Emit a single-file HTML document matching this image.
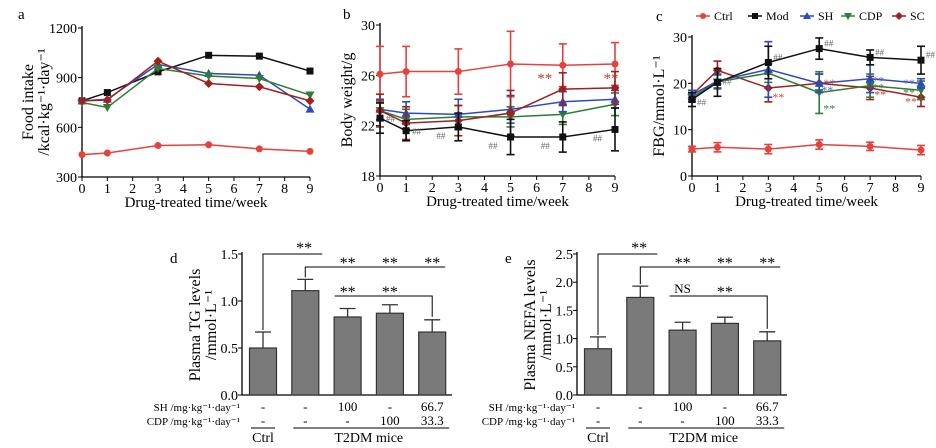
<!DOCTYPE html>
<html><head><meta charset="utf-8">
<style>
html,body{margin:0;padding:0;background:#fff;}
svg{display:block;font-family:"Liberation Serif",serif;}
</style></head>
<body>
<svg id="fig" width="936" height="448" viewBox="0 0 936 448" xmlns="http://www.w3.org/2000/svg"></svg>
<script>
// ---- data ----
const weeks = [0,1,3,5,7,9];
const seriesNames = ["Ctrl","Mod","SH","CDP","SC"];
const seriesColors = ["#e8413c","#111111","#2b4bbd","#2e7d32","#a02020"];
const markerShapes = ["circle","square","triUp","triDown","diamond"];
// Panel a: food intake
const foodCtrl = [435,445,490,495,470,455];
const foodMod  = [760,810,935,1035,1030,940];
const foodSH   = [760,770,980,925,915,710];
const foodCDP  = [750,720,955,910,895,795];
const foodSC   = [760,765,1000,865,845,760];
// Panel b: body weight
const bwCtrl = [26.1,26.3,26.3,26.9,26.8,26.9];
const bwCtrlErr = [2.2,2.0,1.8,2.6,1.7,1.7];
const bwMod = [22.6,21.6,21.9,21.1,21.1,21.7];
const bwModErr = [1.2,0.8,1.1,1.4,1.2,1.7];
const bwSH = [23.3,23.0,22.9,23.3,23.9,24.1];
const bwSHErr = [0.8,0.9,1.2,1.1,0.8,0.7];
const bwCDP = [23.2,22.5,22.7,22.7,22.9,23.7];
const bwCDPErr = [0.8,0.8,0.9,0.8,0.8,0.9];
const bwSC = [23.2,22.2,22.4,23.0,24.9,25.0];
const bwSCErr = [1.3,1.3,1.2,1.8,1.3,1.3];
// Panel c: FBG
const fbgCtrl = [5.8,6.2,5.8,6.8,6.4,5.6];
const fbgCtrlErr = [0.6,1.0,1.0,1.0,0.9,1.0];
const fbgMod = [16.5,20.2,24.5,27.5,25.6,25.0];
const fbgModErr = [1.5,3.0,3.5,2.3,1.6,3.0];
const fbgSH = [17.5,20.5,23.0,20.0,21.0,20.0];
const fbgSHErr = [1.0,1.5,6.0,2.0,3.0,1.0];
const fbgCDP = [17.0,20.3,22.2,18.0,19.5,18.5];
const fbgCDPErr = [1.0,1.5,2.0,4.5,2.5,2.0];
const fbgSC = [17.5,22.8,19.0,20.0,19.0,17.0];
const fbgSCErr = [1.0,2.0,3.0,2.0,2.5,2.0];
// Panel d / e
const barGroups = ["Ctrl","Mod","SH","CDP","SC"];
const tgValues = [0.50,1.11,0.83,0.87,0.67];
const tgErr = [0.17,0.12,0.09,0.09,0.13];
const nefaValues = [0.82,1.73,1.15,1.27,0.96];
const nefaErr = [0.21,0.20,0.14,0.11,0.16];
const shDose = ["-","-","100","-","66.7"];
const cdpDose = ["-","-","-","100","33.3"];
const lineTicksX = [0,1,2,3,4,5,6,7,8,9];
const foodTicks = [300,600,900,1200];
const bwTicks = [18,22,26,30];
const fbgTicks = [0,10,20,30];
const tgTicks = [0,0.5,1.0,1.5];
const nefaTicks = [0,0.5,1.0,1.5,2.0,2.5];

const svg = document.getElementById('fig');
const NS = 'http://www.w3.org/2000/svg';
function mk(tag, attrs, parent, text){
  const e = document.createElementNS(NS, tag);
  for (const k in attrs) e.setAttribute(k, attrs[k]);
  if (text !== undefined) e.textContent = text;
  (parent || svg).appendChild(e);
  return e;
}
function lin(d0,d1,r0,r1){ return v => r0 + (v-d0)/(d1-d0)*(r1-r0); }

function marker(g, shape, x, y, color, s){
  let e;
  if (shape==='circle') e = mk('circle',{cx:x,cy:y,r:s},g);
  else if (shape==='square') e = mk('rect',{x:x-s,y:y-s,width:2*s,height:2*s},g);
  else if (shape==='triUp') e = mk('polygon',{points:`${x},${y-s-1} ${x-s-1},${y+s} ${x+s+1},${y+s}`},g);
  else if (shape==='triDown') e = mk('polygon',{points:`${x},${y+s+1} ${x-s-1},${y-s} ${x+s+1},${y-s}`},g);
  else e = mk('polygon',{points:`${x},${y-s-1} ${x+s+1},${y} ${x},${y+s+1} ${x-s-1},${y}`},g);
  e.setAttribute('fill', color);
  
  
  return e;
}

function lineAxes(g, x0, x1, yTop, yBot, yTicks, sx, sy, fmt){
  const ax = mk('g',{},g);
  
  
  mk('line',{x1:x0,y1:yTop-2,x2:x0,y2:yBot,stroke:'#000','stroke-width':1.3},ax);
  mk('line',{x1:x0,y1:yBot,x2:x1,y2:yBot,stroke:'#000','stroke-width':1.3},ax);
  lineTicksX.forEach(t=>{
    const x = sx(t);
    mk('line',{x1:x,y1:yBot,x2:x,y2:yBot+4,stroke:'#000','stroke-width':1},ax);
    const lb = mk('text',{x:x,y:yBot+16,'font-size':14,'text-anchor':'middle'},ax,String(t));
    
    
  });
  yTicks.forEach(t=>{
    const y = sy(t);
    mk('line',{x1:x0-4,y1:y,x2:x0,y2:y,stroke:'#000','stroke-width':1},ax);
    const lb = mk('text',{x:x0-5,y:y+5,'font-size':14,'text-anchor':'end'},ax,fmt?fmt(t):String(t));
    
    
  });
  const xt = mk('text',{x:(x0+x1)/2,y:yBot+30,'font-size':15,'text-anchor':'middle'},ax,'Drug-treated time/week');
  
  
}

function drawSeries(g, xs, ys, errs, sx, sy, color, shape, name){
  const sg = mk('g',{},g);
  
  
  if (errs){
    xs.forEach((x,i)=>{
      const X = sx(x), y1 = sy(ys[i]-errs[i]), y2 = sy(ys[i]+errs[i]);
      mk('line',{x1:X,y1:y1,x2:X,y2:y2,stroke:color,'stroke-width':1.6},sg);
      mk('line',{x1:X-4,y1:y1,x2:X+4,y2:y1,stroke:color,'stroke-width':1.6},sg);
      mk('line',{x1:X-4,y1:y2,x2:X+4,y2:y2,stroke:color,'stroke-width':1.6},sg);
    });
  }
  const pts = xs.map((x,i)=>sx(x)+','+sy(ys[i])).join(' ');
  mk('polyline',{points:pts,fill:'none',stroke:color,'stroke-width':1.5},sg);
  xs.forEach((x,i)=>marker(sg, shape, sx(x), sy(ys[i]), color, 3.5));
}

function rotTitle(g, x, y, lines){
  const t = mk('text',{transform:`translate(${x},${y}) rotate(-90)`,'font-size':16,'text-anchor':'middle'},g);
  
  
  lines.forEach((l,i)=>{
    mk('tspan',{x:0,dy:i===0?0:16},t,l);
  });
}

// ---- Panel a ----
(function(){
  const g = mk('g',{});  
  const sx = lin(0,9,82,310), sy = lin(300,1200,177,28);
  mk('text',{x:18,y:19,'font-size':15},g,'a');
  lineAxes(g,82,310,28,177,foodTicks,sx,sy);
  rotTitle(g,33,102,['Food intake','/kcal·kg⁻¹·day⁻¹']);
  const data=[foodCtrl,foodMod,foodSH,foodCDP,foodSC];
  data.forEach((d,i)=>drawSeries(g,weeks,d,null,sx,sy,seriesColors[i],markerShapes[i],seriesNames[i]));
})();

// ---- Panel b ----
(function(){
  const g = mk('g',{});  
  const sx = lin(0,9,380,615), sy = lin(18,30,176,25);
  mk('text',{x:343,y:19,'font-size':15},g,'b');
  lineAxes(g,380,615,25,176,bwTicks,sx,sy);
  rotTitle(g,352,100,['Body weight/g']);
  const data=[[bwCtrl,bwCtrlErr],[bwMod,bwModErr],[bwSH,bwSHErr],[bwCDP,bwCDPErr],[bwSC,bwSCErr]];
  [0,3,2,4,1].forEach(i=>drawSeries(g,weeks,data[i][0],data[i][1],sx,sy,seriesColors[i],markerShapes[i],seriesNames[i]));
  weeks.forEach((w,i)=>{
    const t = mk('text',{x:sx(w)+(i<2?6:-22),y:sy(bwMod[i])+(i<2?4:12),'font-size':9,fill:'#666'},g,'##');
  });
  mk('text',{x:sx(7)-18,y:sy(25.4),'font-size':15,fill:'#b0402a','text-anchor':'middle'},g,'**');
  mk('text',{x:sx(9)-4,y:sy(25.4),'font-size':15,fill:'#b0402a','text-anchor':'middle'},g,'**');
})();

// ---- Panel c ----
(function(){
  const g = mk('g',{});  
  const sx = lin(0,9,692,921), sy = lin(0,30,176,37);
  mk('text',{x:656,y:21,'font-size':15},g,'c');
  lineAxes(g,692,921,37,176,fbgTicks,sx,sy);
  rotTitle(g,664,106,['FBG/mmol·L⁻¹']);
  const data=[[fbgCtrl,fbgCtrlErr],[fbgMod,fbgModErr],[fbgSH,fbgSHErr],[fbgCDP,fbgCDPErr],[fbgSC,fbgSCErr]];
  [0,4,3,2,1].forEach(i=>drawSeries(g,weeks,data[i][0],data[i][1],sx,sy,seriesColors[i],markerShapes[i],seriesNames[i]));
  weeks.forEach((w,i)=>{
    if(i===0) return;
    mk('text',{x:sx(w)+5,y:sy(fbgMod[i])+(i===1?2:-2),'font-size':9,fill:'#666'},g,'##');
  });
  mk('text',{x:sx(0)+5,y:sy(fbgMod[0])+6,'font-size':9,fill:'#666'},g,'##');
  const stars=[[3,17.5,4],[5,20.5,4],[7,18,4],[9,16.5,-16]];
  stars.forEach(s=>mk('text',{x:sx(s[0])+s[2],y:sy(s[1])+6,'font-size':12,fill:'#c0503a'},g,'**'));
  [[5,19,2],[7,21,2],[9,20.5,-18]].forEach(s=>mk('text',{x:sx(s[0])+s[2],y:sy(s[1])+6,'font-size':12,fill:'#5060c0'},g,'**'));
  [[5,15,4],[7,19.5,2],[9,18.5,-18]].forEach(s=>mk('text',{x:sx(s[0])+s[2],y:sy(s[1])+6,'font-size':12,fill:'#3a8040'},g,'**'));
  // legend
  const lg = mk('g',{},g);  
  const lx=[703,755,807,848,899];
  seriesNames.forEach((n,i)=>{
    const e = mk('g',{},lg);
    
    
    mk('line',{x1:lx[i]-7,y1:16,x2:lx[i]+7,y2:16,stroke:seriesColors[i],'stroke-width':1.5},e);
    marker(e,markerShapes[i],lx[i],16,seriesColors[i],3);
    mk('text',{x:lx[i]+11,y:20,'font-size':12},e,n);
  });
})();

// ---- Bar panels ----
function barPanel(name, letter, ox, ymax, ticks, vals, errs, titleLines, brackets){
  const g = mk('g',{});  
  const x0 = ox, x1 = ox+210, yT=254, yB=395;
  const sy = lin(0,ymax,yB,yT);
  const cx = i => ox + 21 + i*42.3;
  mk('text',{x:ox-72,y:263,'font-size':15},g,letter);
  rotTitle(g,ox-42,325,titleLines);
  mk('line',{x1:x0,y1:yT-2,x2:x0,y2:yB,stroke:'#000','stroke-width':1.3},g);
  mk('line',{x1:x0,y1:yB,x2:x1,y2:yB,stroke:'#000','stroke-width':1.3},g);
  ticks.forEach(t=>{
    mk('line',{x1:x0-4,y1:sy(t),x2:x0,y2:sy(t),stroke:'#000'},g);
    const lb = mk('text',{x:x0-4,y:sy(t)+5,'font-size':14,'text-anchor':'end'},g,t.toFixed(1));
    
    
  });
  vals.forEach((v,i)=>{
    const c = cx(i);
    const r = mk('rect',{x:c-13.5,y:sy(v),width:27,height:yB-sy(v),fill:'#7a7a7a',stroke:'#333','stroke-width':1.2},g);
    
    
    const ye = sy(v+errs[i]);
    mk('line',{x1:c,y1:sy(v),x2:c,y2:ye,stroke:'#333','stroke-width':1.3},g);
    mk('line',{x1:c-8,y1:ye,x2:c+8,y2:ye,stroke:'#333','stroke-width':1.3},g);
    mk('text',{x:c,y:411,'font-size':13,'text-anchor':'middle'},g,shDose[i]);
    mk('text',{x:c,y:425,'font-size':13,'text-anchor':'middle'},g,cdpDose[i]);
  });
  mk('text',{x:ox-2,y:411,'font-size':11,'text-anchor':'end'},g,'SH /mg·kg⁻¹·day⁻¹');
  mk('text',{x:ox-2,y:425,'font-size':11,'text-anchor':'end'},g,'CDP /mg·kg⁻¹·day⁻¹');
  mk('line',{x1:cx(0)-12,y1:428,x2:cx(0)+12,y2:428,stroke:'#000'},g);
  mk('line',{x1:cx(1)-12,y1:428,x2:cx(4)+17,y2:428,stroke:'#000'},g);
  mk('text',{x:cx(0),y:442,'font-size':14,'text-anchor':'middle'},g,'Ctrl');
  mk('text',{x:(cx(1)+cx(4))/2,y:442,'font-size':14,'text-anchor':'middle'},g,'T2DM mice');
  // brackets
  const b1 = 254, b2 = 267, b3 = 296;
  mk('polyline',{points:`${cx(0)},${sy(vals[0]+errs[0])-2} ${cx(0)},${b1} ${cx(1)+17},${b1}`,fill:'none',stroke:'#000'},g);
  mk('text',{x:(cx(0)+cx(1))/2+20,y:b1-1,'font-size':16,'text-anchor':'middle'},g,'**');
  mk('polyline',{points:`${cx(1)},${sy(vals[1]+errs[1])-2} ${cx(1)},${b2} ${cx(4)+13},${b2}`,fill:'none',stroke:'#000'},g);
  [2,3,4].forEach(i=>mk('text',{x:cx(i),y:b2+1,'font-size':16,'text-anchor':'middle'},g,'**'));
  mk('polyline',{points:`${cx(2)-13},${b3} ${cx(4)},${b3} ${cx(4)},${sy(vals[4]+errs[4])-3}`,fill:'none',stroke:'#000'},g);
  mk('text',{x:cx(2),y:b3+(brackets==='NS'?-3:1),'font-size':brackets==='NS'?13:16,'text-anchor':'middle'},g,brackets==='NS'?'NS':'**');
  mk('text',{x:cx(3),y:b3+1,'font-size':16,'text-anchor':'middle'},g,'**');
}
barPanel('panel-d','d',242,1.5,tgTicks,tgValues,tgErr,['Plasma TG levels','/mmol·L⁻¹'],'**');
barPanel('panel-e','e',577,2.5,nefaTicks,nefaValues,nefaErr,['Plasma NEFA levels','/mmol·L⁻¹'],'NS');
</script>
</body></html>
